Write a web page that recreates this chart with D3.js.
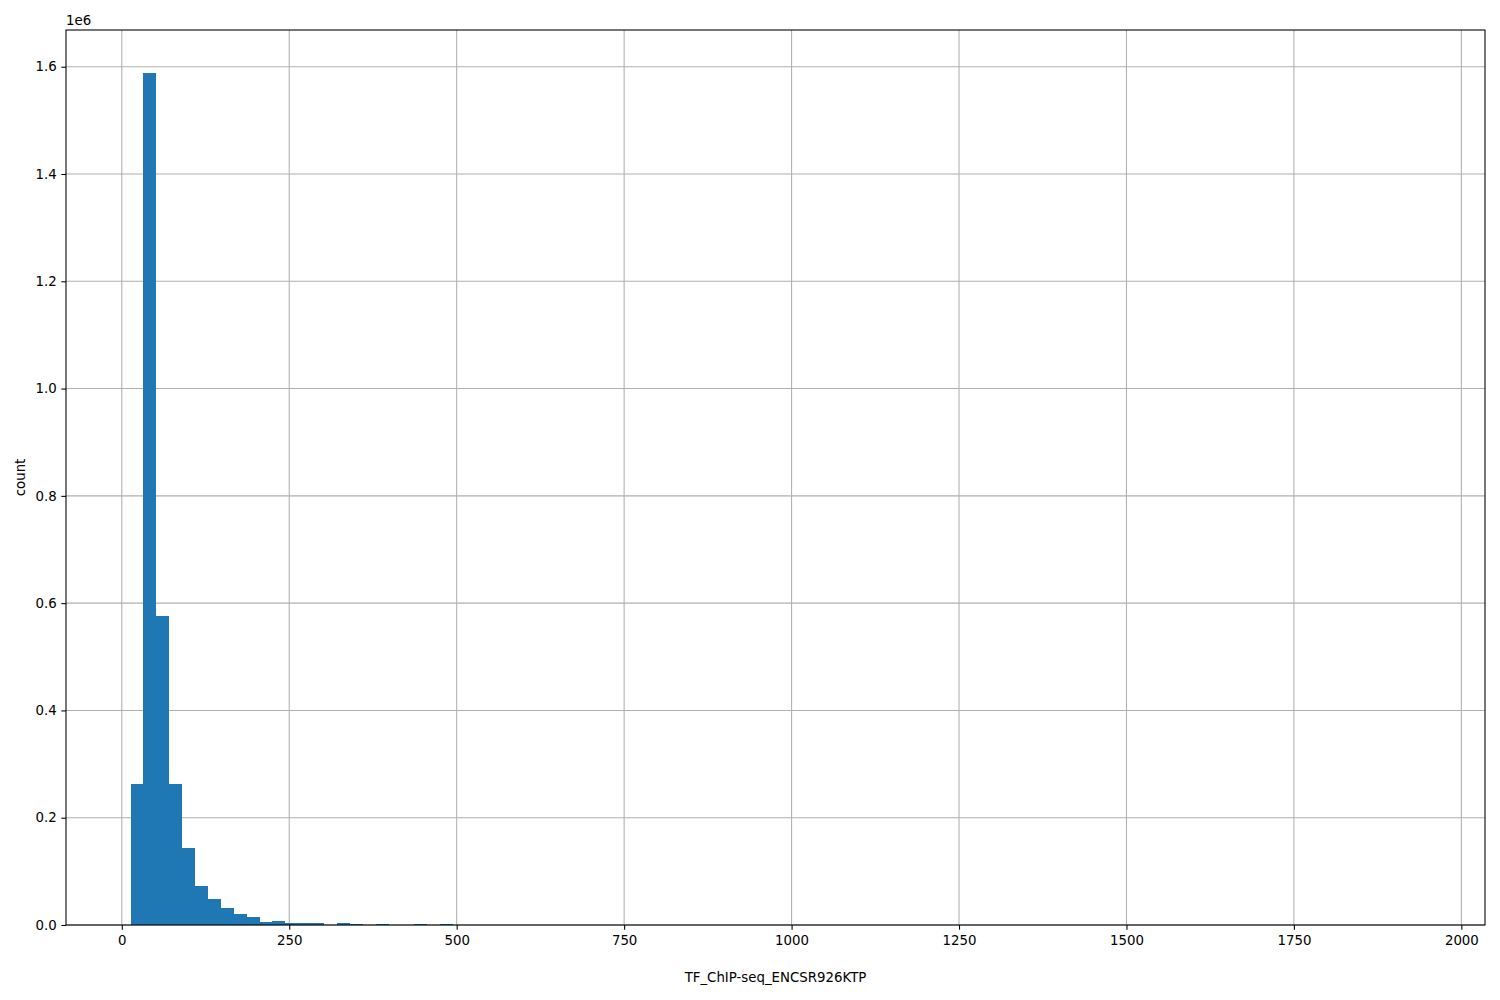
<!DOCTYPE html>
<html>
<head>
<meta charset="utf-8">
<script src="https://cdn.jsdelivr.net/npm/d3@7"></script>
<style>
body { margin: 0; background: #fff; }
svg { display: block; }
text { font-family: "DejaVu Sans", sans-serif; }
</style>
</head>
<body>
<svg id="chart" width="1500" height="1000"></svg>
<script>
// Histogram data: 100 bins spanning the data range
const binStart = 13;
const binEnd = 1939;
const binCount = 100;
// counts per bin (first 25 bins; rest too small to see)
const countsVisible = [
  263000, 1589000, 576000, 263000, 143500, 72700, 48500, 31700, 20500, 14900,
  5600, 7500, 3700, 3700, 3700, 0, 3700, 1900, 0, 1900,
  0, 0, 1900, 0, 1900
];
const countsTail = new Array(binCount - countsVisible.length).fill(0);
countsTail[countsTail.length - 1] = 1;
const counts = countsVisible.concat(countsTail);

const xTicks = [0, 250, 500, 750, 1000, 1250, 1500, 1750, 2000];
const yTicks = [0, 0.2e6, 0.4e6, 0.6e6, 0.8e6, 1.0e6, 1.2e6, 1.4e6, 1.6e6];
const xLabel = "TF_ChIP-seq_ENCSR926KTP";
const yLabel = "count";

const svg = d3.select("#chart");
const L = 66, R = 1485, T = 30, B = 925;
const binW = (binEnd - binStart) / binCount;
const span = binEnd - binStart;
const x = d3.scaleLinear().domain([binStart - 0.05 * span, binEnd + 0.05 * span]).range([L, R]);
const maxC = d3.max(counts);
const y = d3.scaleLinear().domain([0, maxC * 1.05]).range([B, T]);

const bins = counts.map((c, i) => ({ x0: binStart + i * binW, x1: binStart + (i + 1) * binW, c }));

// grid
const g = svg.append("g");
g.selectAll(".vg").data(xTicks).join("line")
  .attr("x1", d => x(d)).attr("x2", d => x(d)).attr("y1", T).attr("y2", B)
  .attr("stroke", "#b0b0b0").attr("stroke-width", 1.07);
g.selectAll(".hg").data(yTicks).join("line")
  .attr("x1", L).attr("x2", R).attr("y1", d => y(d)).attr("y2", d => y(d))
  .attr("stroke", "#b0b0b0").attr("stroke-width", 1.07);

// bars
svg.append("g").selectAll("rect").data(bins.filter(b => b.c > 0)).join("rect")
  .attr("x", d => x(d.x0)).attr("width", d => x(d.x1) - x(d.x0))
  .attr("y", d => y(d.c)).attr("height", d => B - y(d.c))
  .attr("fill", "#1f77b4").attr("shape-rendering", "crispEdges");

// axes
const xAxis = d3.axisBottom(x).tickValues(xTicks).tickSize(4.67).tickPadding(6).tickFormat(d3.format("d"));
const yAxis = d3.axisLeft(y).tickValues(yTicks).tickSize(4.67).tickPadding(4.67).tickFormat(d => (d / 1e6).toFixed(1));
const xa = svg.append("g").attr("transform", `translate(0,${B})`).call(xAxis);
const ya = svg.append("g").attr("transform", `translate(${L},0)`).call(yAxis);
[xa, ya].forEach(a => {
  a.select(".domain").remove();
  a.selectAll(".tick line").attr("stroke", "#000").attr("stroke-width", 1.07);
  a.selectAll(".tick text").attr("fill", "#000").style("font-size", "13.33px").style("font-family", "DejaVu Sans, sans-serif");
});

// spines
svg.append("rect").attr("x", L).attr("y", T).attr("width", R - L).attr("height", B - T)
  .attr("fill", "none").attr("stroke", "#000").attr("stroke-width", 1.07);

// offset text
svg.append("text").attr("x", L).attr("y", T - 5).text("1e6").style("font-size", "13.33px");

// labels
svg.append("text").attr("x", (L + R) / 2).attr("y", 982).attr("text-anchor", "middle")
  .style("font-size", "13.33px").text(xLabel);
svg.append("text").attr("transform", `translate(25,${(T + B) / 2}) rotate(-90)`).attr("text-anchor", "middle")
  .style("font-size", "13.33px").text(yLabel);
</script>
</body>
</html>
